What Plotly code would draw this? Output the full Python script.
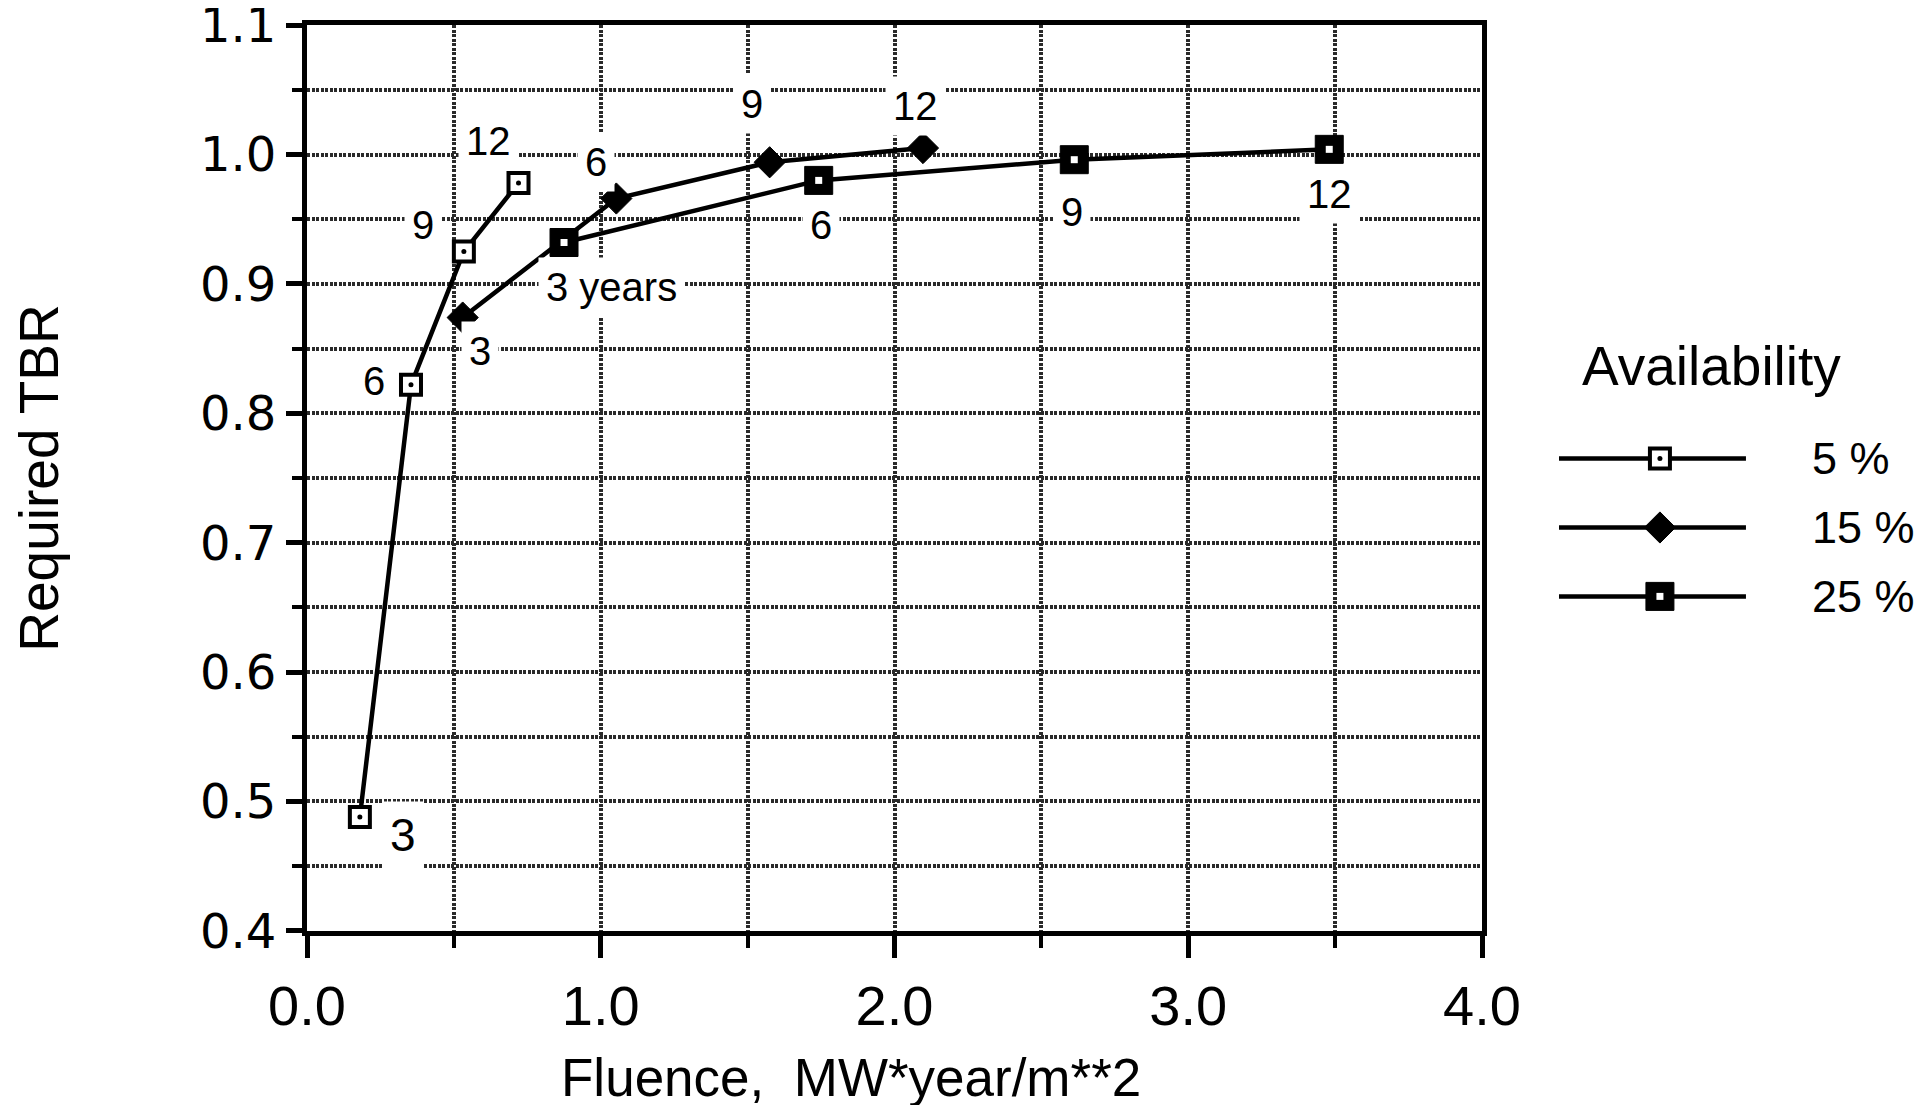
import plotly.graph_objects as go

# ---------------- data ----------------
SERIES_NAMES = ["5 %", "15 %", "25 %"]

FLUENCE_5 = [0.180, 0.354, 0.534, 0.720]
TBR_5 = [0.488, 0.822, 0.925, 0.978]

FLUENCE_15 = [0.530, 1.053, 1.575, 2.097]
TBR_15 = [0.874, 0.966, 0.994, 1.005]

FLUENCE_25 = [0.875, 1.742, 2.612, 3.480]
TBR_25 = [0.932, 0.980, 0.996, 1.004]

YEAR_LABELS_5 = ["3", "6", "9", "12"]
YEAR_LABELS_15 = ["3", "6", "9", "12"]
YEAR_LABELS_25 = ["3 years", "6", "9", "12"]

X_TICKS = [0.0, 1.0, 2.0, 3.0, 4.0]
Y_TICKS = [0.4, 0.5, 0.6, 0.7, 0.8, 0.9, 1.0, 1.1]

X_TITLE = "Fluence,\u00a0 MW*year/m**2"
Y_TITLE = "Required TBR"
LEGEND_TITLE = "Availability"

# ---------------- styling ----------------
FONT = "Liberation Sans, Arial, Helvetica, sans-serif"
WIDE_FONT = "DejaVu Sans, Verdana, sans-serif"
BLACK = "black"
GRID = "#2a2a2a"
LINE_W = 4.5

# label offsets (pixels: xshift, yshift) for each series' point labels
OFFSETS_5 = [(43, -18), (-37, 4), (-41, 27), (-30, 42)]
OFFSETS_15 = [(17, -33), (-20, 37), (-18, 58), (-7, 42)]
OFFSETS_25 = [(47, -44), (2, -45), (-2, -52), (0, -45)]
LABEL_SIZES_5 = [46, 40, 40, 40]

M_5 = dict(symbol="square", size=20, color="white", line=dict(color=BLACK, width=4))
M_5_DOT = dict(symbol="circle", size=5, color=BLACK)
M_15 = dict(symbol="diamond", size=24, color=BLACK, line=dict(color=BLACK, width=1))
M_25 = dict(symbol="square", size=28, color=BLACK, line=dict(color=BLACK, width=1))
M_25_DOT = dict(symbol="square", size=7, color="white")

fig = go.Figure()

# 5 % : open square with a dot
fig.add_trace(go.Scatter(
    x=FLUENCE_5, y=TBR_5, mode="lines+markers", name=SERIES_NAMES[0],
    line=dict(color=BLACK, width=LINE_W), marker=M_5,
    showlegend=False, xaxis="x", yaxis="y"))
fig.add_trace(go.Scatter(
    x=FLUENCE_5, y=TBR_5, mode="markers", hoverinfo="skip", marker=M_5_DOT,
    showlegend=False, xaxis="x", yaxis="y"))

# 15 % : filled diamond
fig.add_trace(go.Scatter(
    x=FLUENCE_15, y=TBR_15, mode="lines+markers", name=SERIES_NAMES[1],
    line=dict(color=BLACK, width=LINE_W), marker=M_15,
    showlegend=False, xaxis="x", yaxis="y"))

# 25 % : filled square with a white centre
fig.add_trace(go.Scatter(
    x=FLUENCE_25, y=TBR_25, mode="lines+markers", name=SERIES_NAMES[2],
    line=dict(color=BLACK, width=LINE_W), marker=M_25,
    showlegend=False, xaxis="x", yaxis="y"))
fig.add_trace(go.Scatter(
    x=FLUENCE_25, y=TBR_25, mode="markers", hoverinfo="skip", marker=M_25_DOT,
    showlegend=False, xaxis="x", yaxis="y"))

# ---------------- point labels ----------------
annotations = []
def add_labels(xs, ys, labels, offsets, sizes=None):
    for i, (x, y, t) in enumerate(zip(xs, ys, labels)):
        dx, dy = offsets[i]
        annotations.append(dict(
            x=x, y=y, xref="x", yref="y", text=t, showarrow=False,
            xshift=dx, yshift=dy, bgcolor="white", borderpad=7,
            font=dict(family=FONT, size=(sizes[i] if sizes else 40), color=BLACK)))

add_labels(FLUENCE_5, TBR_5, YEAR_LABELS_5, OFFSETS_5, LABEL_SIZES_5)
add_labels(FLUENCE_15, TBR_15, YEAR_LABELS_15, OFFSETS_15)
add_labels(FLUENCE_25, TBR_25, YEAR_LABELS_25, OFFSETS_25)

# ---------------- legend drawn on its own small axis ----------------
LEG_ROWS = [0, 1, 2]
leg_styles = [[M_5, M_5_DOT], [M_15], [M_25, M_25_DOT]]
for row, name, styles in zip(LEG_ROWS, SERIES_NAMES, leg_styles):
    fig.add_trace(go.Scatter(
        x=[0, 1], y=[row, row], mode="lines", line=dict(color=BLACK, width=LINE_W),
        hoverinfo="skip", showlegend=False, xaxis="x2", yaxis="y2"))
    for st in styles:
        fig.add_trace(go.Scatter(
            x=[0.54], y=[row], mode="markers", marker=st, name=name,
            hoverinfo="skip", showlegend=False, xaxis="x2", yaxis="y2"))
    annotations.append(dict(
        x=0.9435, y=row, xref="paper", yref="y2", text=name, showarrow=False,
        xanchor="left", yanchor="middle",
        font=dict(family=FONT, size=45, color=BLACK)))

annotations.append(dict(
    x=0.8817, y=0.6232, xref="paper", yref="paper", text=LEGEND_TITLE,
    showarrow=False, xanchor="center", yanchor="middle",
    font=dict(family=FONT, size=55, color=BLACK)))

# x-axis title placed as in the reference (a little left of the plot centre)
annotations.append(dict(
    x=0.3415, y=-0.1615, xref="paper", yref="paper", text=X_TITLE,
    showarrow=False, xanchor="center", yanchor="middle",
    font=dict(family=FONT, size=53, color=BLACK)))

grid_common = dict(gridcolor=GRID, gridwidth=4, griddash="3px,1.5px")

# the page body has an 8px default margin, so the figure is 16px smaller
fig.update_layout(
    width=1912, height=1097,
    paper_bgcolor="white", plot_bgcolor="white",
    margin=dict(l=299, r=20, t=17, b=174, autoexpand=False),
    showlegend=False,
    font=dict(family=FONT, color=BLACK),
    xaxis=dict(
        domain=[0, 0.7376], range=[0, 4.0],
        tickvals=X_TICKS, tickformat=".1f",
        ticks="outside", ticklen=22, tickwidth=5, tickcolor=BLACK,
        ticklabelstandoff=0, ticklabeloverflow="allow",
        tickfont=dict(family=FONT, size=56, color=BLACK),
        showline=True, linecolor=BLACK, linewidth=5, mirror=True,
        showgrid=True, zeroline=False,
        minor=dict(dtick=0.5, ticks="outside", ticklen=12, tickwidth=4,
                   tickcolor=BLACK, showgrid=True, **grid_common),
        automargin=False,
        **grid_common),
    yaxis=dict(
        domain=[0, 1], range=[0.3999, 1.1001],
        tickvals=Y_TICKS, tickformat=".1f",
        ticks="outside", ticklen=16, tickwidth=5, tickcolor=BLACK,
        ticklabelstandoff=0, ticklabeloverflow="allow",
        tickfont=dict(family=WIDE_FONT, size=48, color=BLACK),
        showline=True, linecolor=BLACK, linewidth=5, mirror=True,
        showgrid=True, zeroline=False,
        minor=dict(dtick=0.05, ticks="outside", ticklen=10, tickwidth=4,
                   tickcolor=BLACK, showgrid=True, **grid_common),
        title=dict(text=Y_TITLE, standoff=150,
                   font=dict(family=FONT, size=55, color=BLACK)),
        automargin=False,
        **grid_common),
    xaxis2=dict(domain=[0.7859, 0.9033], range=[0, 1], visible=False,
                fixedrange=True, anchor="y2"),
    yaxis2=dict(domain=[0.3234, 0.5662], range=[2.604, -0.589], visible=False,
                fixedrange=True, anchor="x2"),
    annotations=annotations,
)

fig.write_html("out.html")
